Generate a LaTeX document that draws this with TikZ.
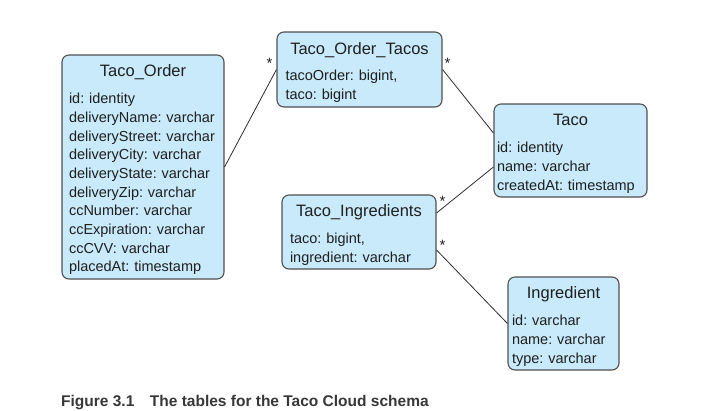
\documentclass[tikz,border=0pt]{standalone}
\usepackage{fontspec}
\setmainfont{Liberation Sans}
\usetikzlibrary{positioning}

\definecolor{tablefill}{RGB}{200,234,250}
\definecolor{tableline}{RGB}{80,80,80}
\definecolor{linkline}{RGB}{45,45,45}
\definecolor{captext}{RGB}{55,55,55}

% centred heading line inside a left aligned table box
\newcommand{\tabletitle}[1]{\rule{0pt}{18pt}\hspace*{\fill}{\fontsize{16.5}{19}\selectfont #1}\hspace*{\fill}\null\\[8pt]}

\begin{document}
\begin{tikzpicture}[
x=1pt, y=-1pt,
table/.style={draw=tableline, line width=1.1pt, fill=tablefill, rounded corners=7pt, align=left, inner sep=0pt, font=\fontsize{14.5}{18.7}\selectfont\frenchspacing, text=black!88},
link/.style={draw=linkline, line width=0.8pt},
mult/.style={font=\fontsize{15}{15}\selectfont, inner sep=0pt, text=black!88}
]
\useasboundingbox (0,0) rectangle (711,410);

\node[table, minimum width=162pt, minimum height=224pt, text width=148pt] (order) at (143,167)
  {\tabletitle{Taco\_Order}id: identity\\ deliveryName: varchar\\ deliveryStreet: varchar\\ deliveryCity: varchar\\ deliveryState: varchar\\ deliveryZip: varchar\\ ccNumber: varchar\\ ccExpiration: varchar\\ ccCVV: varchar\\ placedAt: timestamp};
\node[table, minimum width=165pt, minimum height=75pt, text width=148pt] (ordertacos) at (359.5,69.5)
  {\tabletitle{Taco\_Order\_Tacos}tacoOrder: bigint,\\ taco: bigint};
\node[table, minimum width=153pt, minimum height=93pt, text width=147pt] (taco) at (570.5,150.5)
  {\tabletitle{Taco}id: identity\\ name: varchar\\ createdAt: timestamp};
\node[table, minimum width=154pt, minimum height=74pt, text width=138pt] (tacoingr) at (359,232)
  {\tabletitle{Taco\_Ingredients}taco: bigint,\\ ingredient: varchar};
\node[table, minimum width=111pt, minimum height=93pt, text width=103pt] (ingredient) at (563.5,323.5)
  {\tabletitle{Ingredient}id: varchar\\ name: varchar\\ type: varchar};

\draw[link] (order.east) -- (ordertacos.west) node[mult, pos=1, xshift=-7pt, yshift=6.5pt] {*};
\draw[link] (ordertacos.east) -- ([yshift=17.5pt]taco.west) node[mult, pos=0, xshift=5pt, yshift=6.5pt] {*};
\draw[link] ([yshift=19pt]tacoingr.east) -- ([yshift=-16.5pt]taco.west) node[mult, pos=0, xshift=6pt, yshift=12pt] {*};
\draw[link] ([yshift=-18pt]tacoingr.east) -- (ingredient.west) node[mult, pos=0, xshift=6pt, yshift=5pt] {*};

\node[anchor=base west, inner sep=0pt, font=\bfseries\fontsize{15.5}{18}\selectfont, text=captext] (caption) at (61,406.5)
  {Figure 3.1\quad The tables for the Taco Cloud schema};
\end{tikzpicture}
\end{document}
